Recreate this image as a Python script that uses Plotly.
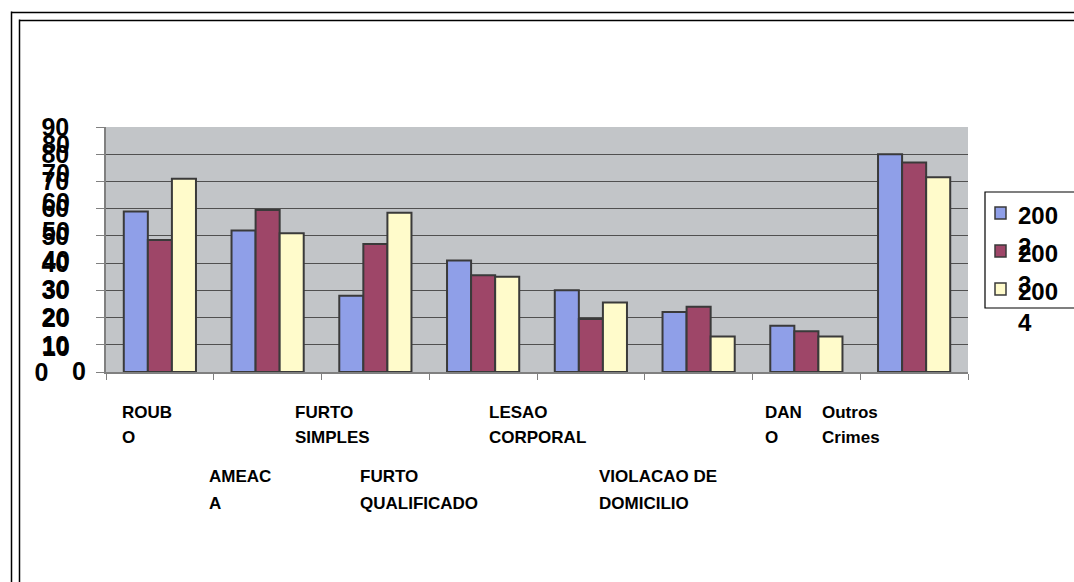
import plotly.graph_objects as go

# ---------------- data ----------------
categories = ["ROUBO", "AMEACA", "FURTO SIMPLES", "FURTO QUALIFICADO",
              "LESAO CORPORAL", "VIOLACAO DE DOMICILIO", "DANO", "Outros Crimes"]
series_names = ["2002", "2003", "2004"]
v2002 = [59, 52, 28, 41, 30, 22, 17, 80]
v2003 = [48.5, 59.5, 47, 35.5, 19.5, 24, 15, 77]
v2004 = [71, 51, 58.5, 35, 25.5, 13, 13, 71.5]
y_ticks = [0, 10, 20, 30, 40, 50, 60, 70, 80, 90]
# wrapped category labels as printed
cat_label_lines = [["ROUB", "O"], ["AMEAC", "A"], ["FURTO", "SIMPLES"], ["FURTO", "QUALIFICADO"],
                   ["LESAO", "CORPORAL"], ["VIOLACAO DE", "DOMICILIO"], ["DAN", "O"], ["Outros", "Crimes"]]
# wrapped legend labels as printed
legend_lines = [["200", "2"], ["200", "3"], ["200", "4"]]
# second (overlapping) layer of y labels in the print
ghost_y_labels = [10, 20, 30, 40, 50, 60, 70, 80]

# ---------------- styles / layout ----------------
colors = ["#8f9fe8", "#9e4668", "#fffbcb"]
W, H = 1074, 582
PX0, PX1, PY0, PY1 = 106, 968, 127, 372  # plot area in pixels
FONT = "Arial, Liberation Sans, Helvetica, sans-serif"


def px(x):
    return (x - PX0) / (PX1 - PX0)


def py(y):
    return (PY1 - y) / (PY1 - PY0)


def bold(s):
    return "<b>" + s + "</b>"


fig = go.Figure()
for name, vals, col in zip(series_names, [v2002, v2003, v2004], colors):
    fig.add_trace(go.Bar(x=categories, y=vals, name=name,
                         marker=dict(color=col, line=dict(color="#3a3a3a", width=2)),
                         showlegend=False))

ticktext = [bold(str(t)) for t in y_ticks]
ticktext[0] = bold("0" + "\u00a0" * 3)

fig.update_layout(
    width=W, height=H, autosize=False,
    margin=dict(l=PX0, r=W - PX1, t=PY0, b=H - PY1, pad=0),
    paper_bgcolor="white", plot_bgcolor="#c2c5c8",
    barmode="group", bargap=0.33, bargroupgap=0,
    font=dict(family=FONT, color="black"),
)
fig.update_xaxes(type="category", showticklabels=False, tickson="boundaries",
                 ticks="outside", ticklen=6, tickcolor="#808080",
                 showline=True, linecolor="#808080", linewidth=1.5, showgrid=False)
fig.update_yaxes(range=[0, 90], tickvals=y_ticks, ticktext=ticktext,
                 ticks="outside", ticklen=8, tickcolor="#808080",
                 showline=True, linecolor="#808080", linewidth=1.5,
                 gridcolor="#505050", gridwidth=1,
                 tickfont=dict(size=25, family=FONT, color="black"),
                 ticklabelstandoff=22, zeroline=False)

ann = []
# category labels (staggered, as in the print)
label_pos = [(120, 0), (207, 1), (293, 0), (358, 1), (487, 0), (597, 1), (763, 0), (820, 0)]
row_y = [(412, 437), (476, 503)]
for lines, (lx, row) in zip(cat_label_lines, label_pos):
    for ln, yy in zip(lines, row_y[row]):
        ann.append(dict(text=bold(ln), xref="paper", yref="paper", x=px(lx), y=py(yy),
                        xanchor="left", yanchor="middle", showarrow=False,
                        font=dict(size=17, family=FONT, color="black")))

# overlapping ghost y labels
for v in ghost_y_labels:
    ann.append(dict(text=bold(str(v)), xref="paper", yref="paper", x=px(40), y=py(376 - 2.9 * v),
                    xanchor="left", yanchor="middle", showarrow=False,
                    font=dict(size=25, family=FONT, color="black")))
ann.append(dict(text=bold("0"), xref="paper", yref="paper", x=px(70), y=py(371),
                xanchor="left", yanchor="middle", showarrow=False,
                font=dict(size=25, family=FONT, color="black")))

shapes = []
# legend box
shapes.append(dict(type="rect", xref="paper", yref="paper", x0=px(985), x1=px(1085),
                   y0=py(192), y1=py(308), line=dict(color="black", width=1.2),
                   fillcolor="white", layer="above"))
leg_y = [213, 251, 289]
for (l1, l2), col, yc in zip(legend_lines, colors, leg_y):
    shapes.append(dict(type="rect", xref="paper", yref="paper", x0=px(995), x1=px(1006),
                       y0=py(yc + 6), y1=py(yc - 6), fillcolor=col,
                       line=dict(color="#3a3a3a", width=1.5), layer="above"))
    ann.append(dict(text=bold(l1), xref="paper", yref="paper", x=px(1016), y=py(yc + 2),
                    xanchor="left", yanchor="middle", showarrow=False,
                    font=dict(size=24, family=FONT, color="black")))
    ann.append(dict(text=bold(l2), xref="paper", yref="paper", x=px(1016), y=py(yc + 33),
                    xanchor="left", yanchor="middle", showarrow=False,
                    font=dict(size=24, family=FONT, color="black")))

# outer double frame
for off in (11.5, 19.5):
    shapes.append(dict(type="line", xref="paper", yref="paper", x0=px(off), x1=px(off),
                       y0=py(off), y1=py(600), line=dict(color="black", width=1.5)))
    shapes.append(dict(type="line", xref="paper", yref="paper", x0=px(off), x1=px(1100),
                       y0=py(off + 1), y1=py(off + 1), line=dict(color="black", width=1.5)))

fig.update_layout(annotations=ann, shapes=shapes)
fig.write_html("out.html", config={"displayModeBar": False},
               post_script="document.body.style.margin='0';document.body.style.overflow='hidden';")
